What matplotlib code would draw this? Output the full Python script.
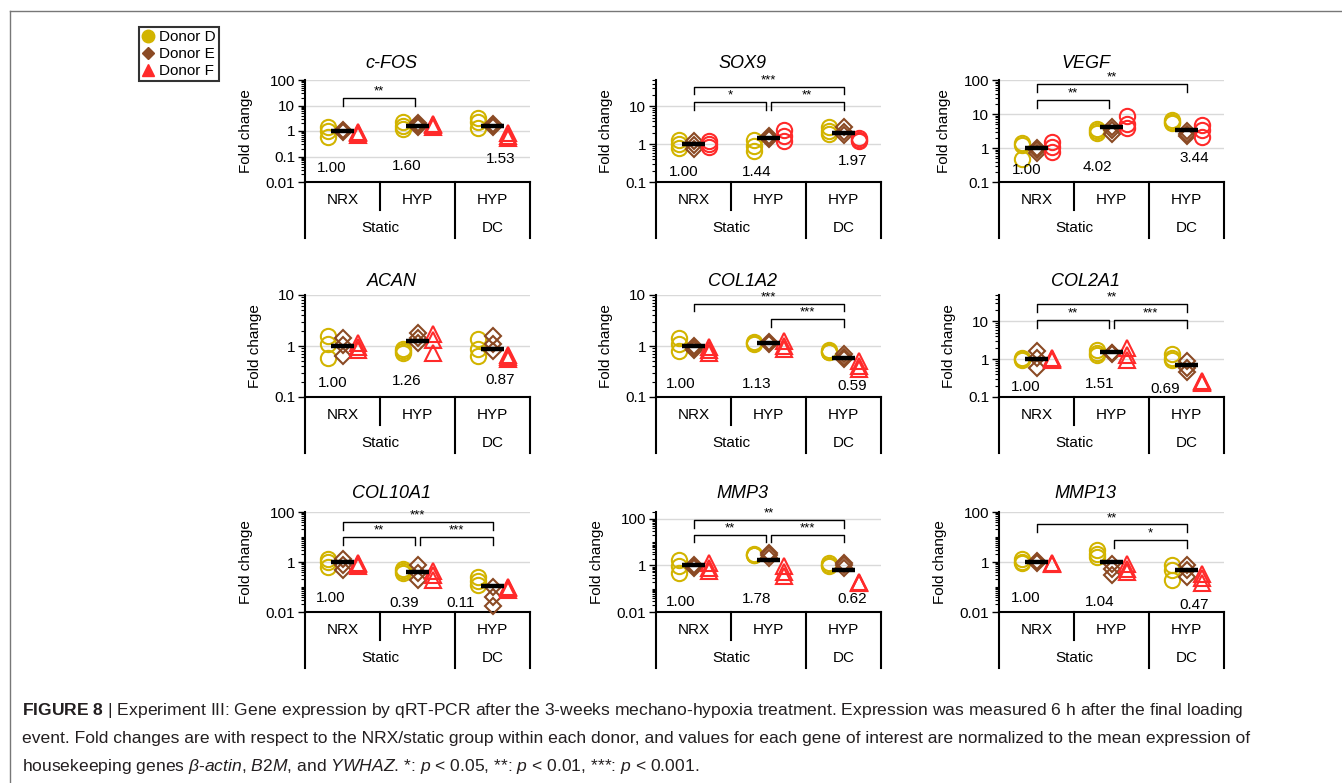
import numpy as np
import matplotlib.pyplot as plt
from matplotlib.lines import Line2D
from matplotlib.ticker import FixedLocator, NullFormatter

plt.rcParams['font.family'] = ['Liberation Sans', 'DejaVu Sans']
plt.rcParams['mathtext.fontset'] = 'custom'
plt.rcParams['mathtext.rm'] = 'Liberation Sans'
plt.rcParams['mathtext.it'] = 'Liberation Sans:italic'
plt.rcParams['mathtext.bf'] = 'Liberation Sans:bold'

W, H = 1342, 783

# --- categories ---
groups = ['NRX', 'HYP', 'HYP']
loading = ['Static', 'DC']
donors = ['Donor D', 'Donor E', 'Donor F']
genes = ['c-FOS', 'SOX9', 'VEGF', 'ACAN', 'COL1A2', 'COL2A1', 'COL10A1', 'MMP3', 'MMP13']

# --- fold change per group -> donor -> replicate ---
cfos_vals = [[[1.45, 1.0, 0.58], [1.1, 1.0, 0.9], [0.9, 0.8, 0.7]],
             [[2.2, 1.6, 1.25], [2.0, 1.75, 1.5], [1.9, 1.7, 1.5]],
             [[3.2, 2.2, 1.3], [1.8, 1.6, 1.4], [0.85, 0.65, 0.55]]]
sox9_vals = [[[1.3, 1.0, 0.8], [1.25, 0.95, 0.75], [1.2, 1.0, 0.85]],
             [[1.3, 0.9, 0.65], [1.6, 1.5, 1.4], [2.4, 1.6, 1.25]],
             [[2.9, 2.2, 1.9], [2.8, 2.1, 1.8], [1.45, 1.3, 1.2]]]
vegf_vals = [[[1.4, 1.2, 0.48], [1.0, 0.85, 0.7], [1.5, 1.05, 0.78]],
             [[3.7, 3.2, 2.8], [4.2, 3.5, 2.5], [9.0, 5.2, 4.0]],
             [[6.6, 5.9, 5.4], [3.2, 2.6, 2.2], [4.7, 3.3, 2.1]]]
acan_vals = [[[1.55, 1.08, 0.58], [1.45, 1.05, 0.65], [1.15, 0.95, 0.82]],
             [[0.86, 0.8, 0.74], [1.8, 1.45, 1.15], [1.7, 1.3, 0.74]],
             [[1.35, 0.87, 0.65], [1.55, 1.1, 0.8], [0.66, 0.6, 0.56]]]
col1a2_vals = [[[1.45, 1.08, 0.8], [1.0, 0.9, 0.85], [0.95, 0.82, 0.74]],
               [[1.2, 1.15, 1.1], [1.2, 1.12, 1.08], [1.25, 1.0, 0.86]],
               [[0.82, 0.78, 0.75], [0.7, 0.6, 0.55], [0.5, 0.41, 0.35]]]
col2a1_vals = [[[1.05, 1.0, 0.95], [1.6, 1.05, 0.57], [1.05, 1.0, 0.95]],
               [[1.8, 1.5, 1.3], [1.5, 1.45, 1.4], [2.0, 1.3, 0.95]],
               [[1.4, 1.1, 0.95], [0.87, 0.6, 0.47], [0.26, 0.25, 0.24]]]
col10a1_vals = [[[1.35, 1.0, 0.63], [1.35, 0.75, 0.47], [0.9, 0.8, 0.68]],
                [[0.54, 0.42, 0.35], [0.75, 0.35, 0.19], [0.42, 0.3, 0.19]],
                [[0.25, 0.18, 0.12], [0.1, 0.04, 0.017], [0.1, 0.09, 0.075]]]
mmp3_vals = [[[1.8, 0.93, 0.48], [1.0, 0.9, 0.8], [1.3, 0.8, 0.57]],
             [[3.0, 2.9, 2.8], [3.5, 2.8, 2.1], [0.93, 0.5, 0.35]],
             [[1.3, 1.0, 0.93], [1.3, 1.0, 0.8], [0.19, 0.18, 0.17]]]
mmp13_vals = [[[1.36, 1.0, 0.9], [1.1, 1.0, 0.9], [0.9, 0.85, 0.8]],
              [[2.9, 2.0, 1.58], [0.86, 0.54, 0.3], [0.86, 0.54, 0.4]],
              [[0.74, 0.47, 0.19], [0.74, 0.47, 0.25], [0.34, 0.22, 0.14]]]

# group means (labels and black bars)
cfos_mean = [1.00, 1.60, 1.53]
sox9_mean = [1.00, 1.44, 1.97]
vegf_mean = [1.00, 4.02, 3.44]
acan_mean = [1.00, 1.26, 0.87]
col1a2_mean = [1.00, 1.13, 0.59]
col2a1_mean = [1.00, 1.51, 0.69]
col10a1_mean = [1.00, 0.39, 0.11]
mmp3_mean = [1.00, 1.78, 0.62]
mmp13_mean = [1.00, 1.04, 0.47]

# significance: (group a, group b, stars, bracket top, leg bottom)
cfos_sig = [(0, 1, '**', 20, 10)]
sox9_sig = [(0, 2, '***', 32, 21), (0, 1, '*', 12.8, 7.8), (1, 2, '**', 12.8, 7.8)]
vegf_sig = [(0, 2, '**', 75, 45), (0, 1, '**', 26, 14.7)]
acan_sig = []
col1a2_sig = [(0, 2, '***', 6.7, 4.75), (1, 2, '***', 3.4, 2.4)]
col2a1_sig = [(0, 2, '**', 29, 17.5), (0, 1, '**', 11, 6.5), (1, 2, '***', 11, 6.5)]
col10a1_sig = [(0, 2, '***', 39, 19), (0, 1, '**', 9.8, 5), (1, 2, '***', 9.8, 5)]
mmp3_sig = [(0, 2, '**', 91, 42), (0, 1, '**', 21, 9.8), (1, 2, '***', 21, 9.8)]
mmp13_sig = [(0, 2, '**', 32, 16), (1, 2, '*', 7.8, 3.7)]

all_vals = [cfos_vals, sox9_vals, vegf_vals, acan_vals, col1a2_vals, col2a1_vals,
            col10a1_vals, mmp3_vals, mmp13_vals]
all_means = [cfos_mean, sox9_mean, vegf_mean, acan_mean, col1a2_mean, col2a1_mean,
             col10a1_mean, mmp3_mean, mmp13_mean]
all_sig = [cfos_sig, sox9_sig, vegf_sig, acan_sig, col1a2_sig, col2a1_sig,
           col10a1_sig, mmp3_sig, mmp13_sig]

# axis ranges and major ticks
ylims = [(0.01, 100), (0.1, 50), (0.1, 100), (0.1, 10), (0.1, 10), (0.1, 50),
         (0.01, 100), (0.01, 200), (0.01, 100)]
majors = [[0.01, 0.1, 1, 10, 100], [0.1, 1, 10], [0.1, 1, 10, 100], [0.1, 1, 10],
          [0.1, 1, 10], [0.1, 1, 10], [0.01, 1, 100], [0.01, 1, 100], [0.01, 1, 100]]
ticklabels = {0.01: '0.01', 0.1: '0.1', 1: '1', 10: '10', 100: '100'}

# --- styling / layout (pixels) ---
colors = ['#D2B400', '#8B4A24', '#FF2A2A']
col_x0 = [305, 656, 999]
row_y = [(80, 182, 63), (295, 397, 282), (512, 612, 494)]
panel_w = 225
offsets = [-0.2, 0.0, 0.2]
FS = 11
# mean label placement: (dx in px from column centre, y as axes fraction)
lab_pos = [[(-11, 0.14), (-11, 0.16), (8, 0.23)],
           [(-10, 0.10), (-12, 0.10), (9, 0.21)],
           [(-10, 0.12), (-14, 0.15), (8, 0.24)],
           [(-10, 0.14), (-11, 0.16), (8, 0.17)],
           [(-13, 0.13), (-12, 0.13), (9, 0.11)],
           [(-11, 0.10), (-12, 0.13), (-21, 0.08)],
           [(-12, 0.14), (-13, 0.09), (-32, 0.09)],
           [(-13, 0.10), (-12, 0.13), (9, 0.13)],
           [(-11, 0.14), (-12, 0.10), (8, 0.07)]]

fig = plt.figure(figsize=(W / 100, H / 100), dpi=100)


def fline(xs, ys, **kw):
    fig.add_artist(Line2D([x / W for x in xs], [1 - y / H for y in ys], **kw))


def ftext(x, y, s, **kw):
    fig.text(x / W, 1 - y / H, s, **kw)


for k, gene in enumerate(genes):
    r, c = divmod(k, 3)
    x0 = col_x0[c]
    ytop, ybot, ytitle = row_y[r]
    ax = fig.add_axes([x0 / W, 1 - ybot / H, panel_w / W, (ybot - ytop) / H])
    ax.set_yscale('log')
    ax.set_xlim(0, 3)
    lo, hi = ylims[k]
    ax.set_ylim(lo, hi)

    mj = majors[k]
    ax.yaxis.set_major_locator(FixedLocator(mj))
    ax.set_yticklabels([ticklabels[m] for m in mj])
    minors = []
    for e in range(-3, 3):
        for s in range(1, 10):
            v = s * 10.0 ** e
            if lo < v <= hi and not any(np.isclose(v, m) for m in mj):
                minors.append(v)
    ax.yaxis.set_minor_locator(FixedLocator(minors))
    ax.yaxis.set_minor_formatter(NullFormatter())
    ax.tick_params(axis='y', which='major', length=5, width=1, labelsize=FS, pad=2)
    ax.tick_params(axis='y', which='minor', length=3, width=0.8)
    ax.set_xticks([])
    for m in mj:
        if m > lo:
            ax.axhline(m, color='#D9D9D9', lw=1, zorder=0)
    ax.spines['top'].set_visible(False)
    ax.spines['right'].set_visible(False)
    ax.spines['left'].set_linewidth(1.5)
    ax.spines['bottom'].set_linewidth(1.5)
    ax.set_ylabel('Fold change', fontsize=FS, labelpad=9)

    vals = all_vals[k]
    for g in range(3):
        for d in range(3):
            mk = ['o', 'D', '^'][d]
            if d == 2 and gene in ('SOX9', 'VEGF'):
                mk = 'o'
            ms = 8 if mk == 'D' else 11
            ys = vals[g][d]
            ax.plot([g + 0.5 + offsets[d]] * len(ys), ys, ls='none', marker=mk, ms=ms,
                    mfc='none', mec=colors[d], mew=1.5, zorder=3, clip_on=False)
        m = all_means[k][g]
        ax.plot([g + 0.5 - 0.15, g + 0.5 + 0.15], [m, m], color='black', lw=3.2,
                solid_capstyle='butt', zorder=4)
        dx, yf = lab_pos[k][g]
        ax.text(g + 0.5 + dx / 75, yf, f'{m:.2f}', transform=ax.get_xaxis_transform(),
                ha='center', va='center', fontsize=FS)

    sig = all_sig[k]
    for a, b, stars, top, leg in sig:
        xa, xb = a + 0.5, b + 0.5
        if b - a == 1:
            if a == 1:
                xa += 0.03
            else:
                xb -= 0.03
        ax.plot([xa, xa, xb, xb], [leg, top, top, leg], color='black', lw=1, zorder=5)
        ax.text((xa + xb) / 2, top * 1.04, stars, ha='center', va='bottom', fontsize=9.5)

    # category axis below the plot
    x1 = x0 + panel_w
    cw = panel_w / 3
    fline([x0, x0], [ybot, ybot + 56], color='black', lw=1.5)
    fline([x0 + cw, x0 + cw], [ybot, ybot + 28], color='black', lw=1.5)
    fline([x0 + 2 * cw, x0 + 2 * cw], [ybot, ybot + 56], color='black', lw=1.5)
    fline([x1, x1], [ybot, ybot + 56], color='black', lw=1.5)
    for g in range(3):
        ftext(x0 + cw * (g + 0.5), ybot + 18, groups[g], ha='center', va='center', fontsize=FS)
    ftext(x0 + cw, ybot + 46, loading[0], ha='center', va='center', fontsize=FS)
    ftext(x0 + cw * 2.5, ybot + 46, loading[1], ha='center', va='center', fontsize=FS)

    ftext(x0 + panel_w / 2 - 26, ytitle, gene, ha='center', va='center', fontsize=13,
          style='italic')

# legend
handles = [Line2D([], [], ls='none', marker='o', ms=9, color=colors[0]),
           Line2D([], [], ls='none', marker='D', ms=6.5, color=colors[1]),
           Line2D([], [], ls='none', marker='^', ms=9, color=colors[2])]
leg = fig.legend(handles, donors, loc='upper left', bbox_to_anchor=(139 / W, 1 - 27 / H),
                 fontsize=11, frameon=True, fancybox=False, edgecolor='black',
                 handlelength=0.8, handletextpad=0.3, borderpad=0.2, labelspacing=0.2,
                 borderaxespad=0)
leg.get_frame().set_linewidth(1.5)

# outer frame
fline([9.5, W], [10.5, 10.5], color='#777777', lw=1)
fline([9.5, 9.5], [10.5, H], color='#777777', lw=1)

# caption
cap_kw = dict(ha='left', va='center', fontsize=12.6, color='#231F20')
ftext(22, 711, r'$\mathbf{FIGURE\ 8}$ | Experiment III: Gene expression by qRT-PCR after the '
      '3-weeks mechano-hypoxia treatment. Expression was measured 6 h after the final loading',
      **cap_kw)
ftext(22, 739, 'event. Fold changes are with respect to the NRX/static group within each donor, '
      'and values for each gene of interest are normalized to the mean expression of', **cap_kw)
ftext(22, 766, r'housekeeping genes $\mathit{\beta}$-$\mathit{actin}$, $\mathit{B2M}$, and '
      r'$\mathit{YWHAZ}$. *: $\mathit{p}$ < 0.05, **: $\mathit{p}$ < 0.01, ***: '
      r'$\mathit{p}$ < 0.001.', **cap_kw)

fig.savefig('out.png', dpi=100)
